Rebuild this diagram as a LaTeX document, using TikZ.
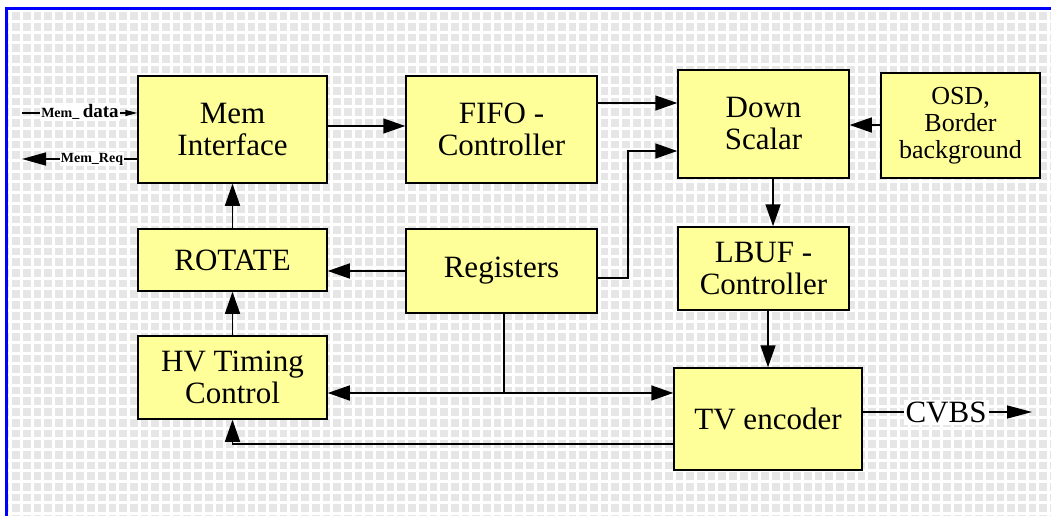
\documentclass[tikz,border=0pt]{standalone}
\usepackage{fontspec}
\setmainfont{Liberation Serif}
\newfontfamily\boxserif{Liberation Serif}
\usetikzlibrary{arrows.meta,positioning}
\definecolor{boxYellow}{HTML}{FFFF99}
\definecolor{gridGray}{HTML}{E6E6E6}
\definecolor{frameBlue}{HTML}{0000FF}

\begin{document}
\begin{tikzpicture}[x=1pt,y=-1pt,
        block/.style={draw=black, line width=1.5pt, fill=boxYellow, align=center,
                      inner sep=0pt, font=\boxserif\fontsize{31}{32}\selectfont},
        arr/.style={-{Triangle[length=22pt,width=15pt]}, line width=1.5pt},
        thinarr/.style={-{Triangle[length=12pt,width=6pt]}, line width=1.5pt},
        link/.style={line width=1.5pt},
        tag/.style={fill=white, inner sep=1pt, font=\boxserif\bfseries\fontsize{15}{17}\selectfont}
    ]
        % background: frame and grid
        \useasboundingbox (0,0) rectangle (1051,516);
        \fill[white] (0,0) rectangle (1051,516);
        \fill[gridGray] (7,10) rectangle (1051,516);
        \begin{scope}
            \clip (7,10) rectangle (1051,516);
            \draw[white, line width=3pt, step=10.7pt] (7,10) grid (1051,516);
        \end{scope}
        \draw[frameBlue, line width=3pt] (6,516) -- (6,9) -- (1051,9);

        % blocks
        \node[block, minimum width=189pt, minimum height=107pt] (memif) at (232.5,129.5) {Mem\\Interface};
        \node[block, minimum width=191pt, minimum height=107pt] (fifo) at (501.5,129.5) {FIFO -\\Controller};
        \node[block, minimum width=171pt, minimum height=108pt] (downsc) at (763.5,124) {Down\\Scalar};
        \node[block, minimum width=159pt, minimum height=105pt, font=\boxserif\fontsize{26}{27}\selectfont]
            (osd) at (960.5,125.5) {OSD,\\Border\\background};
        \node[block, minimum width=189pt, minimum height=62pt] (rotate) at (232.5,260) {ROTATE};
        \node[block, minimum width=191pt, minimum height=84pt] (regs) at (501.5,271) {Registers};
        \node[block, minimum width=171pt, minimum height=83pt] (lbuf) at (763.5,268.5) {LBUF -\\Controller};
        \node[block, minimum width=189pt, minimum height=83pt] (hvtime) at (232.5,377.5) {HV Timing\\Control};
        \node[block, minimum width=188pt, minimum height=102pt] (tvenc) at (768,419) {TV encoder};

        % memory side
        \coordinate (datain) at (22,113);
        \coordinate (reqout) at (22,159);
        \draw[thinarr] (datain) -- (memif.west |- datain);
        \draw[-{Triangle[length=24pt,width=13pt]}, line width=1.5pt] (memif.west |- reqout) -- (reqout);
        \node[tag] (datatag) at (80,112) {\fontsize{14}{16}\selectfont Mem\_ \fontsize{19}{21}\selectfont data};
        \node[tag, font=\boxserif\bfseries\fontsize{14}{16}\selectfont] (reqtag) at (92,159) {Mem\_Req};

        % data path
        \draw[arr] (memif.east |- 0,126) -- (fifo.west |- 0,126);
        \draw[arr] (fifo.east |- 0,103) -- (downsc.west |- 0,103);
        \draw[arr] (osd.west |- 0,125) -- (downsc.east |- 0,125);
        \draw[arr] (downsc.south -| 773,0) -- (lbuf.north -| 773,0);
        \draw[arr] (lbuf.south -| 768,0) -- (tvenc.north);

        % control path
        \draw[arr] (regs.west |- 0,271) -- (rotate.east |- 0,271);
        \draw[arr] (regs.east |- 0,278) -- (628,278) -- (628,151) -- (downsc.west |- 0,151);
        \draw[arr] (rotate.north) -- (memif.south);
        \draw[arr] (hvtime.north) -- (rotate.south);

        \coordinate (split) at (504,393);
        \draw[link] (regs.south -| split) -- (split);
        \draw[arr] (split) -- (hvtime.east |- split);
        \draw[arr] (split) -- (tvenc.west |- split);
        \draw[arr] (tvenc.west |- 0,444) -| (hvtime.south);

        % output
        \coordinate (cvbsend) at (1032,412);
        \draw[-{Triangle[length=25pt,width=13pt]}, line width=1.5pt] (tvenc.east |- cvbsend) -- (cvbsend);
        \node[fill=white, inner sep=2pt, font=\boxserif\fontsize{31}{32}\selectfont] (cvbs) at (946,412) {CVBS};
\end{tikzpicture}
\end{document}
